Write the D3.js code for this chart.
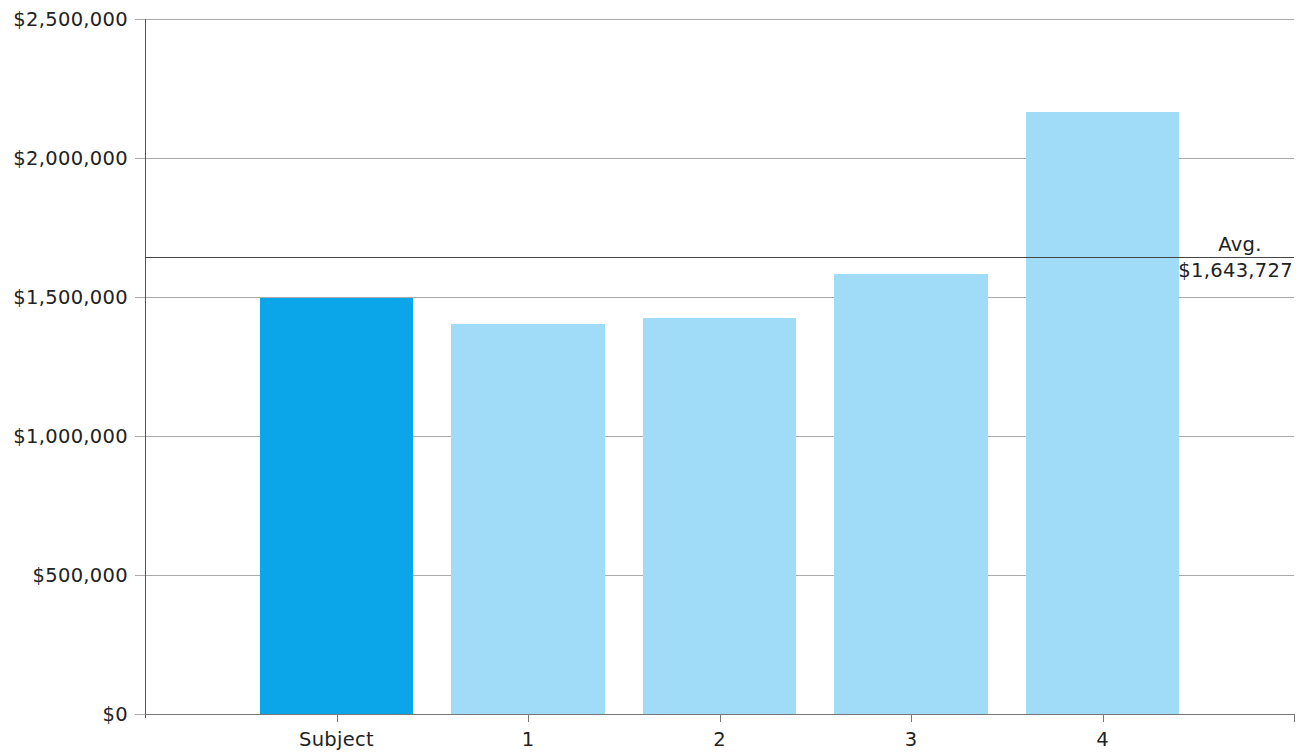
<!DOCTYPE html>
<html>
<head>
<meta charset="utf-8">
<script src="https://cdn.jsdelivr.net/npm/d3@7"></script>
<style>
  html, body { margin: 0; padding: 0; background: #fff; }
  svg { display: block; font-family: "DejaVu Sans", "Open Sans", sans-serif; }
  text { letter-spacing: 0.3px; }
</style>
</head>
<body>
<svg id="chart" width="1304" height="752"></svg>
<script>
const categories = ["Subject", "1", "2", "3", "4"];
const values = [1495000, 1402000, 1424500, 1582500, 2165908];
const isSubject = [true, false, false, false, false];
const yTicks = [0, 500000, 1000000, 1500000, 2000000, 2500000];
const avgValue = 1643727;
const avgLabel = ["Avg.", "$1,643,727"];

const FONT = 19.5;
const svg = d3.select("#chart");
const mLeft = 145, mRight = 1294, mTop = 19, mBottom = 714;

const slots = ["__start", ...categories, "__end"];
const x = d3.scalePoint().domain(slots).range([mLeft, mRight]).padding(0);
const step = x.step();
const barW = step * 0.8;
const y = d3.scaleLinear().domain([0, 2500000]).range([mBottom, mTop]);
const fmt = v => "$" + d3.format(",")(v);

// grid
svg.append("g").selectAll("line").data(yTicks).join("line")
  .attr("x1", mLeft - 10).attr("x2", mRight)
  .attr("y1", d => y(d)).attr("y2", d => y(d))
  .attr("stroke", "#aaaaaa").attr("stroke-width", 1)
  .attr("shape-rendering", "crispEdges");

// bars
svg.append("g").selectAll("rect").data(categories).join("rect")
  .attr("x", d => x(d) - barW / 2)
  .attr("width", barW)
  .attr("y", (d, i) => y(values[i]))
  .attr("height", (d, i) => y(0) - y(values[i]))
  .attr("fill", (d, i) => isSubject[i] ? "#0ba5ea" : "#a0dbf7")
  .attr("shape-rendering", "crispEdges");

// y axis
const yAxis = d3.axisLeft(y).tickValues(yTicks).tickFormat(fmt).tickSize(0).tickPadding(17);
const gy = svg.append("g").attr("transform", `translate(${mLeft},0)`).call(yAxis);
gy.select(".domain").remove();
gy.selectAll("text").attr("font-size", FONT).attr("fill", "#222")
  .attr("font-family", "'DejaVu Sans', sans-serif");
svg.append("line").attr("x1", mLeft).attr("x2", mLeft).attr("y1", mTop).attr("y2", mBottom + 4)
  .attr("stroke", "#555").attr("shape-rendering", "crispEdges");

// x axis
svg.append("line").attr("x1", mLeft).attr("x2", mRight).attr("y1", mBottom).attr("y2", mBottom)
  .attr("stroke", "#777").attr("shape-rendering", "crispEdges");
svg.append("g").selectAll("line").data(["__end", ...categories]).join("line")
  .attr("x1", d => Math.round(x(d)) + 0.5).attr("x2", d => Math.round(x(d)) + 0.5)
  .attr("y1", mBottom).attr("y2", mBottom + 8)
  .attr("stroke", "#777");
svg.append("g").selectAll("text").data(categories).join("text")
  .attr("x", d => x(d)).attr("y", 746)
  .attr("text-anchor", "middle").attr("font-size", FONT).attr("fill", "#222")
  .text(d => d);

// avg line
svg.append("line").attr("x1", mLeft).attr("x2", mRight)
  .attr("y1", y(avgValue)).attr("y2", y(avgValue))
  .attr("stroke", "#444").attr("stroke-width", 1).attr("shape-rendering", "crispEdges");
svg.append("text").attr("x", 1240).attr("y", y(avgValue) - 6)
  .attr("text-anchor", "middle").attr("font-size", FONT).attr("fill", "#222").text(avgLabel[0]);
svg.append("text").attr("x", 1293).attr("y", y(avgValue) + 20)
  .attr("text-anchor", "end").attr("font-size", FONT).attr("fill", "#222").text(avgLabel[1]);
</script>
</body>
</html>
